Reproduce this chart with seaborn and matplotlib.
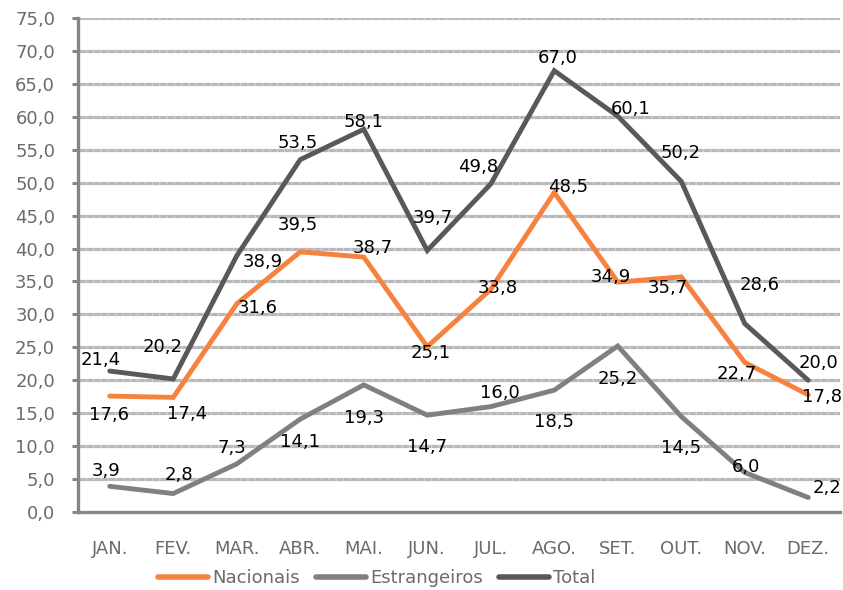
import matplotlib
matplotlib.use("Agg")
import matplotlib.pyplot as plt
from matplotlib.lines import Line2D
import pandas as pd
import seaborn as sns

months = ["JAN.", "FEV.", "MAR.", "ABR.", "MAI.", "JUN.", "JUL.", "AGO.", "SET.", "OUT.", "NOV.", "DEZ."]
nacionais = [17.6, 17.4, 31.6, 39.5, 38.7, 25.1, 33.8, 48.5, 34.9, 35.7, 22.7, 17.8]
estrangeiros = [3.9, 2.8, 7.3, 14.1, 19.3, 14.7, 16.0, 18.5, 25.2, 14.5, 6.0, 2.2]
total = [21.4, 20.2, 38.9, 53.5, 58.1, 39.7, 49.8, 67.0, 60.1, 50.2, 28.6, 20.0]
series_names = ["Nacionais", "Estrangeiros", "Total"]
y_ticks = [0, 5, 10, 15, 20, 25, 30, 35, 40, 45, 50, 55, 60, 65, 70, 75]

colors = {"Nacionais": "#F7813E", "Estrangeiros": "#808080", "Total": "#595959"}

# label offsets in pixels (dx, dy downwards) -- styling only
label_offsets = {
    "Nacionais": [(-1, 19), (14, 17), (21, 4), (-2, -27), (9, -9), (3, 6), (7, -1), (14, -6),
                  (-7, -5), (-13, 11), (-8, 12), (14, 2)],
    "Estrangeiros": [(-4, -15), (6, -19), (-5, -16), (0, 23), (0, 33), (0, 32), (9, -14), (0, 32),
                     (0, 33), (0, 32), (1, -5), (19, -10)],
    "Total": [(-9, -11), (-11, -32), (26, 6), (-3, -17), (0, -7), (6, -33), (-13, -17), (3, -13),
              (13, -7), (-1, -28), (15, -39), (10, -17)],
}

sns.set_style("white")
plt.rcParams["font.family"] = ["DejaVu Sans"]
FS = 13

values = {"Nacionais": nacionais, "Estrangeiros": estrangeiros, "Total": total}
rows = []
for s in series_names:
    for i, m in enumerate(months):
        rows.append({"pos": i, "mes": m, "serie": s, "valor": values[s][i]})
df = pd.DataFrame(rows)

W, H = 843, 590
fig = plt.figure(figsize=(W / 100, H / 100), dpi=100)
ax = fig.add_axes([78 / W, 1 - 512 / H, 762 / W, 494 / H])

sns.lineplot(data=df, x="pos", y="valor", hue="serie", hue_order=series_names,
             palette=colors, linewidth=3.5, ax=ax, legend=False, sort=False,
             estimator=None)
for ln in ax.get_lines():
    ln.set_solid_joinstyle("miter")
    ln.set_zorder(3)

for s in series_names:
    for i, v in enumerate(values[s]):
        dx, dy = label_offsets[s][i]
        ax.annotate(f"{v:.1f}".replace(".", ","), xy=(i, v), xytext=(dx, -dy),
                    textcoords="offset pixels", ha="center", va="center",
                    fontsize=FS, color="black", zorder=5)

ax.set_xlim(-0.5, 11.5)
ax.set_ylim(0, 75)
ax.set_yticks(y_ticks)
ax.set_yticklabels([f"{t:.1f}".replace(".", ",") for t in y_ticks])
ax.set_xticks(range(len(months)))
ax.set_xticklabels(months)
ax.set_xticks([i - 0.5 for i in range(len(months) + 1)], minor=True)
ax.set_xlabel("")
ax.set_ylabel("")

ax.tick_params(axis="x", which="major", length=0, pad=20, labelsize=FS, labelcolor="#6b6b6b")
ax.tick_params(axis="x", which="minor", length=4.5, width=2.2, color="#868686", direction="out")
ax.tick_params(axis="y", which="major", length=4.5, width=2.2, color="#868686", pad=12,
               labelsize=FS, labelcolor="#6b6b6b", left=True)

ax.grid(False)
for t in y_ticks[1:]:
    ax.axhline(t, color="#B8B8B8", linewidth=2.3, zorder=1)
    ax.axhline(t, color="#D8D8D8", linewidth=2.3, linestyle=(0, (0.3, 2.0)), zorder=1.1)

for side in ["top", "right"]:
    ax.spines[side].set_visible(False)
for side in ["left", "bottom"]:
    ax.spines[side].set_color("#868686")
    ax.spines[side].set_linewidth(2.4)
    ax.spines[side].set_zorder(4)

handles = [Line2D([0], [0], color=colors[s], linewidth=4.0, solid_capstyle="round") for s in series_names]
fig.legend(handles, series_names, loc="center", bbox_to_anchor=(0.4466, 1 - 578 / H), ncol=3,
           frameon=False, handlelength=2.8, handletextpad=0.2, columnspacing=0.9,
           fontsize=FS, labelcolor="#6b6b6b")

fig.savefig("out.png", dpi=100)
